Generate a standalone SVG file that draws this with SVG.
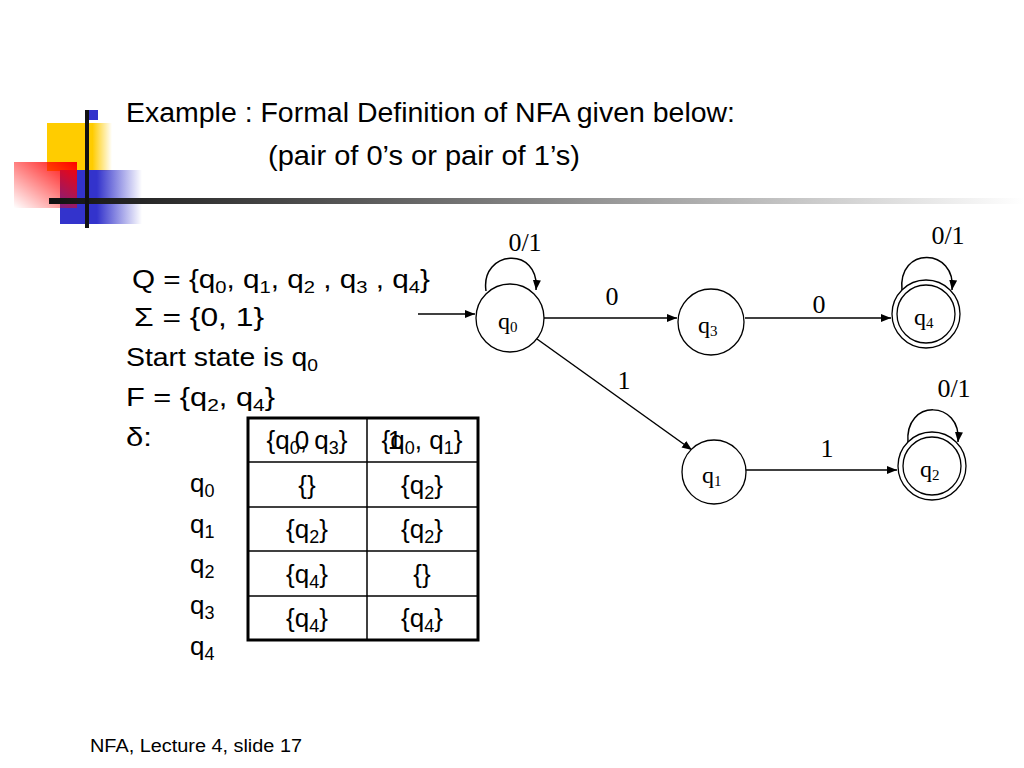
<svg xmlns="http://www.w3.org/2000/svg" width="1024" height="768" viewBox="0 0 1024 768">
<defs>
<linearGradient id="gy" x1="0" y1="0" x2="1" y2="0"><stop offset="0" stop-color="#FFCC00"/><stop offset="0.7" stop-color="#FFCC00"/><stop offset="1" stop-color="#FFCC00" stop-opacity="0"/></linearGradient>
<linearGradient id="gb" x1="0" y1="0" x2="1" y2="0"><stop offset="0" stop-color="#3333CC"/><stop offset="0.45" stop-color="#3333CC"/><stop offset="1" stop-color="#3333CC" stop-opacity="0"/></linearGradient>
<linearGradient id="gr" x1="1" y1="0" x2="0" y2="1"><stop offset="0" stop-color="#FF0000"/><stop offset="1" stop-color="#FF0000" stop-opacity="0"/></linearGradient>
<linearGradient id="gl" x1="0" y1="0" x2="1" y2="0"><stop offset="0" stop-color="#111"/><stop offset="0.3" stop-color="#555"/><stop offset="1" stop-color="#fff"/></linearGradient>
<marker id="ah" viewBox="0 0 10 10" refX="10" refY="5" markerWidth="10" markerHeight="10" markerUnits="userSpaceOnUse" orient="auto"><path d="M0,1 L10,5 L0,9 z" fill="#000"/></marker>
<style>
.t{font-family:"Liberation Sans",Arial,sans-serif;fill:#000}
.s{font-family:"Liberation Serif","Times New Roman",serif;fill:#000}
.n{fill:#fff;stroke:#000;stroke-width:1.3}
.e{fill:none;stroke:#000;stroke-width:1.5;marker-end:url(#ah)}
.g{stroke:#000;fill:none}
</style>
</defs>
<rect width="1024" height="768" fill="#fff"/>
<g id="decor">
<rect x="47" y="123" width="65" height="48" fill="url(#gy)"/>
<rect x="60" y="170" width="82" height="54" fill="url(#gb)"/>
<rect x="14" y="162" width="63" height="46" fill="url(#gr)"/>
<rect x="86" y="110" width="12" height="10" fill="#3333CC"/>
<rect x="49" y="198" width="975" height="6" fill="url(#gl)"/>
<rect x="85" y="110" width="4" height="118" fill="#111"/>
</g>
<g id="title" class="t">
<text x="126" y="122" font-size="27" textLength="609" lengthAdjust="spacingAndGlyphs">Example : Formal Definition of NFA given below:</text>
<text x="268" y="165" font-size="27" textLength="312" lengthAdjust="spacingAndGlyphs">(pair of 0’s or pair of 1’s)</text>
</g>
<g id="definition" class="t" font-size="25">
<text x="132" y="288" textLength="298" lengthAdjust="spacingAndGlyphs">Q = {q<tspan font-size="17" dy="5">0</tspan><tspan dy="-5">, q</tspan><tspan font-size="17" dy="5">1</tspan><tspan dy="-5">, q</tspan><tspan font-size="17" dy="5">2</tspan><tspan dy="-5"> , q</tspan><tspan font-size="17" dy="5">3</tspan><tspan dy="-5"> , q</tspan><tspan font-size="17" dy="5">4</tspan><tspan dy="-5">}</tspan></text>
<text x="134" y="326" textLength="130" lengthAdjust="spacingAndGlyphs">Σ = {0, 1}</text>
<text x="126" y="366" textLength="192" lengthAdjust="spacingAndGlyphs">Start state is q<tspan font-size="17" dy="5">0</tspan></text>
<text x="126" y="406" textLength="149" lengthAdjust="spacingAndGlyphs">F = {q<tspan font-size="17" dy="5">2</tspan><tspan dy="-5">, q</tspan><tspan font-size="17" dy="5">4</tspan><tspan dy="-5">}</tspan></text>
<text x="126" y="446" textLength="26" lengthAdjust="spacingAndGlyphs">δ:</text>
</g>
<g id="row-labels" class="t" font-size="26">
<text x="190" y="492">q<tspan font-size="18" dy="5">0</tspan></text>
<text x="190" y="533">q<tspan font-size="18" dy="5">1</tspan></text>
<text x="190" y="573">q<tspan font-size="18" dy="5">2</tspan></text>
<text x="190" y="614">q<tspan font-size="18" dy="5">3</tspan></text>
<text x="190" y="655">q<tspan font-size="18" dy="5">4</tspan></text>
</g>
<g id="table">
<rect x="248" y="418" width="230" height="222" fill="none" stroke="#000" stroke-width="3"/>
<g stroke="#000" stroke-width="1.5">
<line x1="367" y1="418" x2="367" y2="640"/>
<line x1="248" y1="462" x2="478" y2="462"/>
<line x1="248" y1="507" x2="478" y2="507"/>
<line x1="248" y1="551" x2="478" y2="551"/>
<line x1="248" y1="596" x2="478" y2="596"/>
</g>
<g class="t" font-size="26" text-anchor="middle">
<text x="307" y="449">{q<tspan font-size="18" dy="5">0</tspan><tspan dy="-5">, q</tspan><tspan font-size="18" dy="5">3</tspan><tspan dy="-5">}</tspan></text>
<text x="302" y="449">0</text>
<text x="422" y="449">{q<tspan font-size="18" dy="5">0</tspan><tspan dy="-5">, q</tspan><tspan font-size="18" dy="5">1</tspan><tspan dy="-5">}</tspan></text>
<text x="395" y="449">1</text>
<text x="307" y="494">{}</text>
<text x="422" y="494">{q<tspan font-size="18" dy="5">2</tspan><tspan dy="-5">}</tspan></text>
<text x="307" y="538">{q<tspan font-size="18" dy="5">2</tspan><tspan dy="-5">}</tspan></text>
<text x="422" y="538">{q<tspan font-size="18" dy="5">2</tspan><tspan dy="-5">}</tspan></text>
<text x="307" y="583">{q<tspan font-size="18" dy="5">4</tspan><tspan dy="-5">}</tspan></text>
<text x="422" y="583">{}</text>
<text x="307" y="627">{q<tspan font-size="18" dy="5">4</tspan><tspan dy="-5">}</tspan></text>
<text x="422" y="627">{q<tspan font-size="18" dy="5">4</tspan><tspan dy="-5">}</tspan></text>
</g>
</g>
<g id="connectors">
<line class="e" x1="418" y1="314" x2="475" y2="314"/>
<line class="e" x1="544" y1="318" x2="677" y2="318"/>
<line class="e" x1="745" y1="318" x2="891" y2="318"/>
<line class="e" x1="537" y1="339" x2="692" y2="450"/>
<line class="e" x1="746" y1="470" x2="897" y2="470"/>
<path class="e" d="M486,291 C480,250 540,245 536,290"/>
<path class="e" d="M902,291 C897,245 957,248 952,290"/>
<path class="e" d="M908,443 C904,398 962,400 958,442"/>
<g class="s" font-size="26" text-anchor="middle">
<text x="525" y="251">0/1</text>
<text x="612" y="305">0</text>
<text x="819" y="313">0</text>
<text x="624" y="389">1</text>
<text x="827" y="457">1</text>
<text x="948" y="244">0/1</text>
<text x="954" y="397">0/1</text>
</g>
</g>
<g id="node-q0"><circle class="n" cx="510" cy="318" r="34"/><text class="s" x="498" y="329" font-size="24">q<tspan font-size="15" dy="3">0</tspan></text></g>
<g id="node-q3"><circle class="n" cx="711" cy="322" r="33"/><text class="s" x="698" y="333" font-size="24">q<tspan font-size="15" dy="3">3</tspan></text></g>
<g id="node-q4"><circle class="n" cx="926" cy="314" r="34"/><circle class="g" cx="926" cy="314" r="29" stroke-width="1.3"/><text class="s" x="914" y="325" font-size="24">q<tspan font-size="15" dy="3">4</tspan></text></g>
<g id="node-q1"><circle class="n" cx="714" cy="472" r="32"/><text class="s" x="702" y="483" font-size="24">q<tspan font-size="15" dy="3">1</tspan></text></g>
<g id="node-q2"><circle class="n" cx="932" cy="466" r="34"/><circle class="g" cx="932" cy="466" r="29" stroke-width="1.3"/><text class="s" x="920" y="477" font-size="24">q<tspan font-size="15" dy="3">2</tspan></text></g>
<g id="footer"><text class="t" x="90" y="752" font-size="18" textLength="212" lengthAdjust="spacingAndGlyphs">NFA, Lecture 4, slide 17</text></g>
</svg>
